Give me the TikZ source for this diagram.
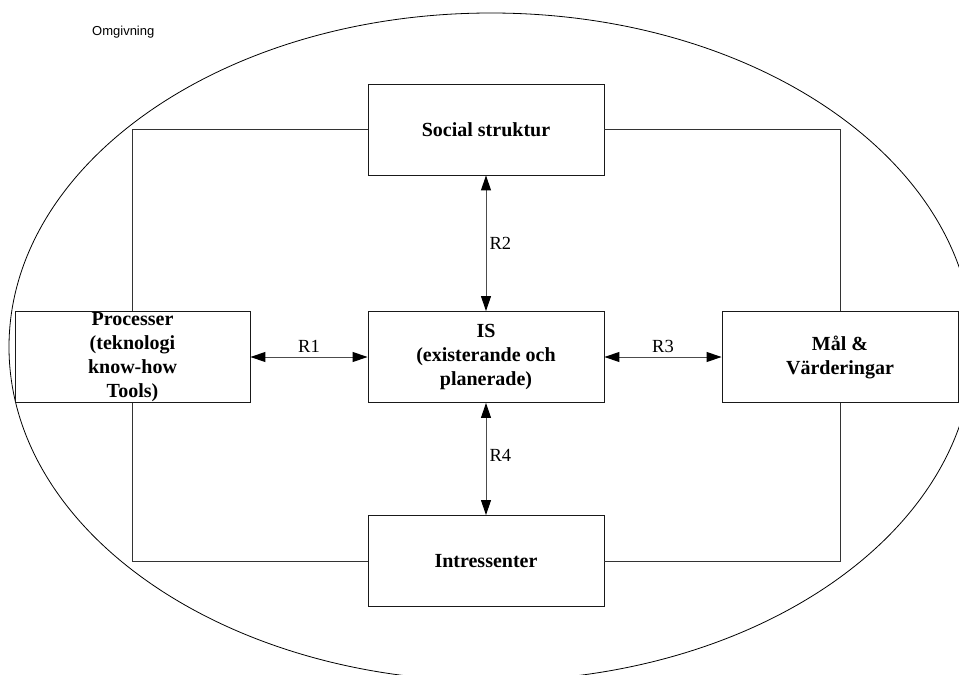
\documentclass[tikz,border=0pt]{standalone}
\usepackage{fontspec}
\setmainfont{Liberation Serif}
\newfontfamily\helv{Liberation Sans}
\usetikzlibrary{arrows.meta}

\tikzset{
  unit/.style={draw=black!90, line width=0.9pt, rectangle, inner sep=0pt,
    minimum width=236pt, minimum height=91pt, align=center,
    font=\fontsize{20}{24}\selectfont\bfseries},
  frame/.style={draw=black!80, line width=0.9pt},
  rel/.style={draw=black!70, line width=1pt,
    {Triangle[length=15pt,width=10pt,color=black]}-{Triangle[length=15pt,width=10pt,color=black]}},
  rlabel/.style={inner sep=0pt, font=\fontsize{18.5}{20}\selectfont},
  env/.style={draw=black, line width=0.8pt}
}

\begin{document}
\begin{tikzpicture}[x=1pt,y=-1pt]
  \useasboundingbox (0,0) rectangle (959,675);
  \clip (0,0) rectangle (959,675);

  % environment
  \draw[env] (491,347) ellipse [x radius=482, y radius=334];
  \node[anchor=west, inner sep=0pt, font=\helv\fontsize{13}{15}\selectfont]
    (omg) at (92,32) {Omgivning};

  % units
  \node[unit] (soc)  at (486,129.5) {Social struktur};
  \node[unit] (is)   at (486,357)   {IS\\(existerande och\\planerade)};
  \node[unit] (intr) at (486,561)   {Intressenter};
  \node[unit, minimum width=235pt] (proc) at (132.5,357)
    {Processer\\(teknologi\\know-how\\Tools)};
  \node[unit] (mal)  at (840,357)   {Mål \&\\Värderingar};

  % outer frame linking the units
  \draw[frame] (soc.west) -| (proc.north);
  \draw[frame] (soc.east) -| (mal.north);
  \draw[frame] (proc.south) |- (intr.west);
  \draw[frame] (mal.south) |- (intr.east);

  % relations
  \draw[rel] (proc.east) -- node[rlabel, above=4pt] (r1) {R1} (is.west);
  \draw[rel] (soc.south) -- node[rlabel, right=3pt] (r2) {R2} (is.north);
  \draw[rel] (is.east) -- node[rlabel, above=4pt] (r3) {R3} (mal.west);
  \draw[rel] (is.south) -- node[rlabel, right=3pt, yshift=4pt] (r4) {R4} (intr.north);
\end{tikzpicture}
\end{document}
